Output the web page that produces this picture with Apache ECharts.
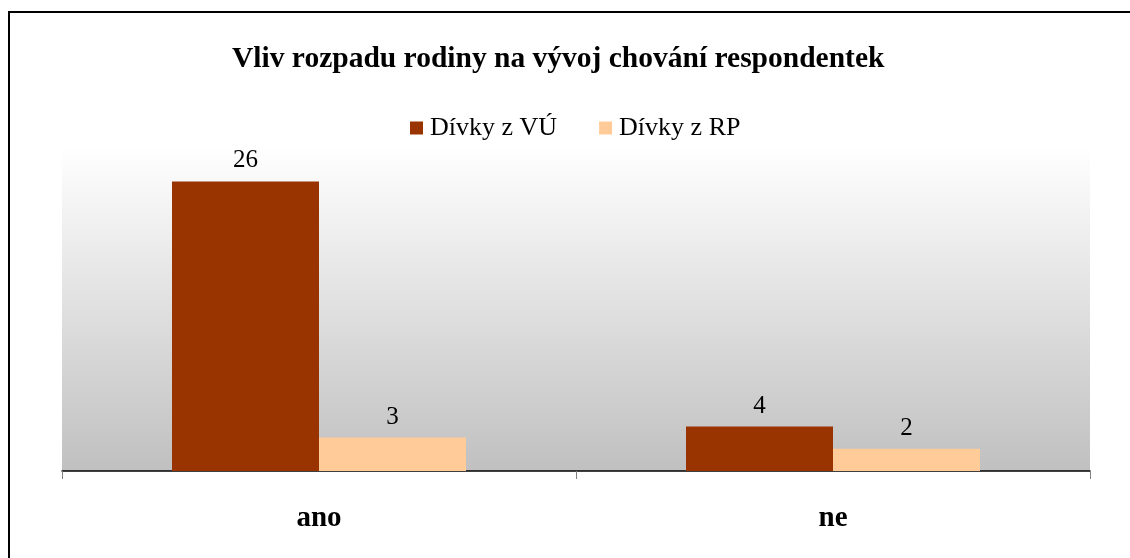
<!DOCTYPE html>
<html>
<head>
<meta charset="utf-8">
<script src="https://cdn.jsdelivr.net/npm/echarts@6/dist/echarts.min.js"></script>
<style>
  html, body { margin: 0; padding: 0; background: #fff; }
  #main { width: 1130px; height: 558px; }
</style>
</head>
<body>
<div id="main"></div>
<script>
let categories = ['ano', 'ne'];
let seriesNames = ['Dívky z VÚ', 'Dívky z RP'];
let vuValues = [26, 4];
let rpValues = [3, 2];

let myChart = echarts.init(document.getElementById('main'));
let serif = '"Liberation Serif", "DejaVu Serif", serif';

myChart.setOption({
    backgroundColor: '#ffffff',
    animation: false,
    title: {
        text: 'Vliv rozpadu rodiny na vývoj chování respondentek',
        left: 227,
        top: 39,
        textStyle: { fontFamily: serif, fontSize: 29.5, fontWeight: 'bold', color: '#000' }
    },
    legend: {
        data: seriesNames,
        top: 110,
        left: 405,
        itemWidth: 13,
        itemHeight: 13,
        itemGap: 42,
        icon: 'rect',
        textStyle: { fontFamily: serif, fontSize: 26, color: '#000', padding: [0, 0, 0, 2] }
    },
    //graphic draws the outer frame
    graphic: [{
        type: 'rect',
        shape: { x: 9, y: 12, width: 1130, height: 560 },
        style: { fill: 'none', stroke: '#000', lineWidth: 2 },
        silent: true
    }],
    grid: {
        left: 62,
        right: 40,
        top: 148,
        bottom: 87,
        show: true,
        borderWidth: 0,
        backgroundColor: new echarts.graphic.LinearGradient(0, 0, 0, 1, [
            { offset: 0, color: '#ffffff' },
            { offset: 1, color: '#c0c0c0' }
        ])
    },
    xAxis: {
        type: 'category',
        data: categories,
        axisLine: { lineStyle: { color: '#000', width: 1.5 } },
        axisTick: { show: true, length: 8, lineStyle: { color: '#808080' } },
        axisLabel: { fontFamily: serif, fontSize: 29, fontWeight: 'bold', color: '#000', margin: 33 }
    },
    yAxis: {
        type: 'value',
        min: 0,
        max: 29,
        show: false,
        splitLine: { show: false }
    },
    series: [
        {
            name: seriesNames[0],
            type: 'bar',
            data: vuValues,
            barWidth: 147,
            barGap: '0%',
            itemStyle: { color: '#993300' },
            label: { show: true, position: 'top', distance: 8, fontFamily: serif, fontSize: 25, color: '#000' }
        },
        {
            name: seriesNames[1],
            type: 'bar',
            data: rpValues,
            barWidth: 147,
            barGap: '0%',
            itemStyle: { color: '#ffcc99' },
            label: { show: true, position: 'top', distance: 8, fontFamily: serif, fontSize: 25, color: '#000' }
        }
    ]
});
</script>
</body>
</html>
